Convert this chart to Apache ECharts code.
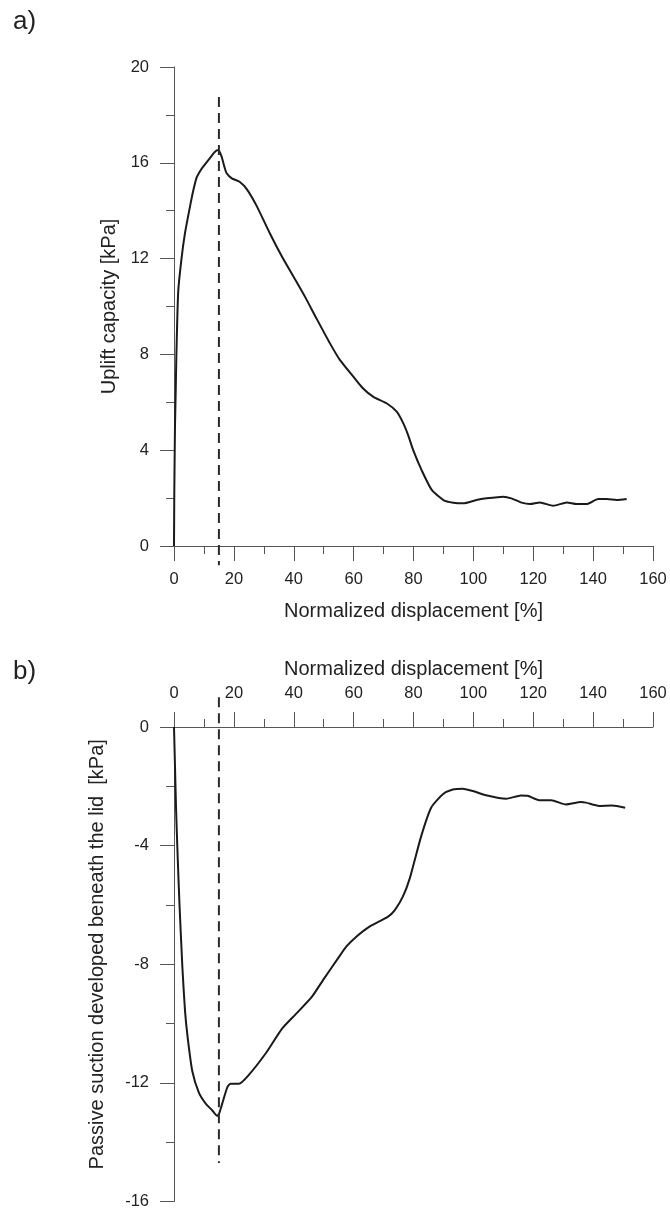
<!DOCTYPE html>
<html>
<head>
<meta charset="utf-8">
<script src="https://cdn.jsdelivr.net/npm/echarts@6/dist/echarts.min.js"></script>
<style>
html,body{margin:0;padding:0;background:#fff;}
#chart{width:670px;height:1210px;}
</style>
</head>
<body>
<div id="chart"></div>
<script>
// Panel a) Uplift capacity vs normalized displacement
var upliftX = [0,0.1,0.33,0.56,0.8,1.4,2.45,3.67,5.34,6.46,7.6,8.7,9.8,12,13.7,14.8,15.9,16.8,17.6,19.3,22,24.3,27.6,32,36,39.9,44,47.6,52.1,55.4,59.9,63,66.6,71,74.4,76.6,78.3,79.9,82.7,86.1,90,93.3,96.6,101,104.4,110,112.7,116.1,118.9,122.2,126.7,131.2,134.5,137.8,141.7,144.5,147.9,151.2];
var upliftY = [0,2.2,5.0,6.4,8.0,10.6,11.94,13.06,14.17,14.85,15.4,15.65,15.85,16.2,16.46,16.53,16.26,15.85,15.56,15.35,15.2,14.9,14.2,13.06,12.1,11.25,10.35,9.5,8.46,7.77,7.07,6.6,6.23,5.96,5.61,5.12,4.6,4.0,3.17,2.34,1.92,1.81,1.78,1.92,1.99,2.06,1.99,1.81,1.75,1.82,1.68,1.82,1.75,1.75,1.96,1.96,1.92,1.96];
// Panel b) Passive suction vs normalized displacement
var suctionX = [0,0.3,0.7,1.2,1.8,2.8,3.7,4.6,6.1,8.3,10.6,12.8,14.4,15.2,16.1,17.8,18.9,21.7,25,30.6,36.1,40.6,46.1,50,55,57.6,60.9,65.3,71.4,73.7,76.4,78.7,82.6,85.9,89.8,93.1,96.4,99.8,104.2,110.9,115.9,118.1,122,126,130.9,135.9,137.6,142,146.4,150.7];
var suctionY = [0,-1.2,-2.8,-4.3,-5.9,-8.1,-9.6,-10.5,-11.6,-12.33,-12.7,-12.93,-13.11,-13.0,-12.7,-12.15,-12.03,-12.03,-11.73,-11.01,-10.17,-9.69,-9.09,-8.5,-7.77,-7.4,-7.07,-6.73,-6.4,-6.18,-5.73,-5.12,-3.67,-2.72,-2.27,-2.11,-2.08,-2.16,-2.3,-2.42,-2.31,-2.32,-2.47,-2.47,-2.61,-2.53,-2.55,-2.66,-2.65,-2.72];
// Peak marker (dashed vertical) at 15 %
var peakX = [15, 15];
var peakTopY = [18.75, -0.8];
var peakBottomY = [1.0, -14.7];

var xName = 'Normalized displacement [%]';
var yNameA = 'Uplift capacity [kPa]';
var yNameB = 'Passive suction developed beneath the lid  [kPa]';
var panelLabels = ['a)', 'b)'];

function zip(a, b) { return a.map(function (v, i) { return [v, b[i]]; }); }

var FONT = 'Liberation Sans, Arial, Helvetica, sans-serif';
var axisColor = '#555';
var textColor = '#222';

function xAxisCfg(idx, pos) {
  return {
    type: 'value', gridIndex: idx, position: pos, min: 0, max: 160, interval: 20,
    name: xName, nameLocation: 'middle', nameGap: pos === 'top' ? 48 : 55,
    nameTextStyle: {fontFamily: FONT, fontSize: 20, color: textColor},
    axisLine: {show: true, onZero: false, lineStyle: {color: axisColor, width: 1}},
    axisTick: {show: true, length: 15, lineStyle: {color: axisColor, width: 1}},
    minorTick: {show: true, splitNumber: 2, length: 8, lineStyle: {color: axisColor, width: 1}},
    axisLabel: {fontFamily: FONT, fontSize: 16.5, color: textColor, margin: 25},
    splitLine: {show: false}, minorSplitLine: {show: false}
  };
}
function yAxisCfg(idx, min, max, name, gap, pad) {
  return {
    type: 'value', gridIndex: idx, min: min, max: max, interval: 4,
    name: name, nameLocation: 'middle', nameGap: gap,
    nameTextStyle: {fontFamily: FONT, fontSize: 20, color: textColor, padding: pad},
    axisLine: {show: true, onZero: false, lineStyle: {color: axisColor, width: 1}},
    axisTick: {show: true, length: 14, lineStyle: {color: axisColor, width: 1}},
    minorTick: {show: true, splitNumber: 2, length: 8, lineStyle: {color: axisColor, width: 1}},
    axisLabel: {fontFamily: FONT, fontSize: 16.5, color: textColor, margin: 25},
    splitLine: {show: false}, minorSplitLine: {show: false}
  };
}

var chart = echarts.init(document.getElementById('chart'), null, {renderer: 'canvas'});
chart.setOption({
  backgroundColor: '#fff',
  animation: false,
  title: [
    {text: panelLabels[0], left: 8, top: 4, textStyle: {fontFamily: FONT, fontSize: 26, fontWeight: 'normal', color: textColor}},
    {text: panelLabels[1], left: 8, top: 654, textStyle: {fontFamily: FONT, fontSize: 26, fontWeight: 'normal', color: textColor}}
  ],
  grid: [
    {left: 174, right: 17, top: 67, height: 479},
    {left: 174, right: 17, top: 727, height: 478}
  ],
  xAxis: [xAxisCfg(0, 'bottom'), xAxisCfg(1, 'top')],
  yAxis: [yAxisCfg(0, 0, 20, yNameA, 55, 0), yAxisCfg(1, -16, 0, yNameB, 67, [0, 0, 0, 20])],
  series: [
    {type: 'line', xAxisIndex: 0, yAxisIndex: 0, data: zip(upliftX, upliftY), showSymbol: false, smooth: 0.2,
     lineStyle: {color: '#1a1a1a', width: 2}},
    {type: 'line', xAxisIndex: 0, yAxisIndex: 0, data: zip(peakX, peakTopY), showSymbol: false, clip: false,
     lineStyle: {color: '#2a2a2a', width: 2, type: [10, 6]}},
    {type: 'line', xAxisIndex: 1, yAxisIndex: 1, data: zip(suctionX, suctionY), showSymbol: false, smooth: 0.2,
     lineStyle: {color: '#1a1a1a', width: 2}},
    {type: 'line', xAxisIndex: 1, yAxisIndex: 1, data: zip(peakX, peakBottomY), showSymbol: false, clip: false,
     lineStyle: {color: '#2a2a2a', width: 2, type: [10, 6]}}
  ]
});
</script>
</body>
</html>
